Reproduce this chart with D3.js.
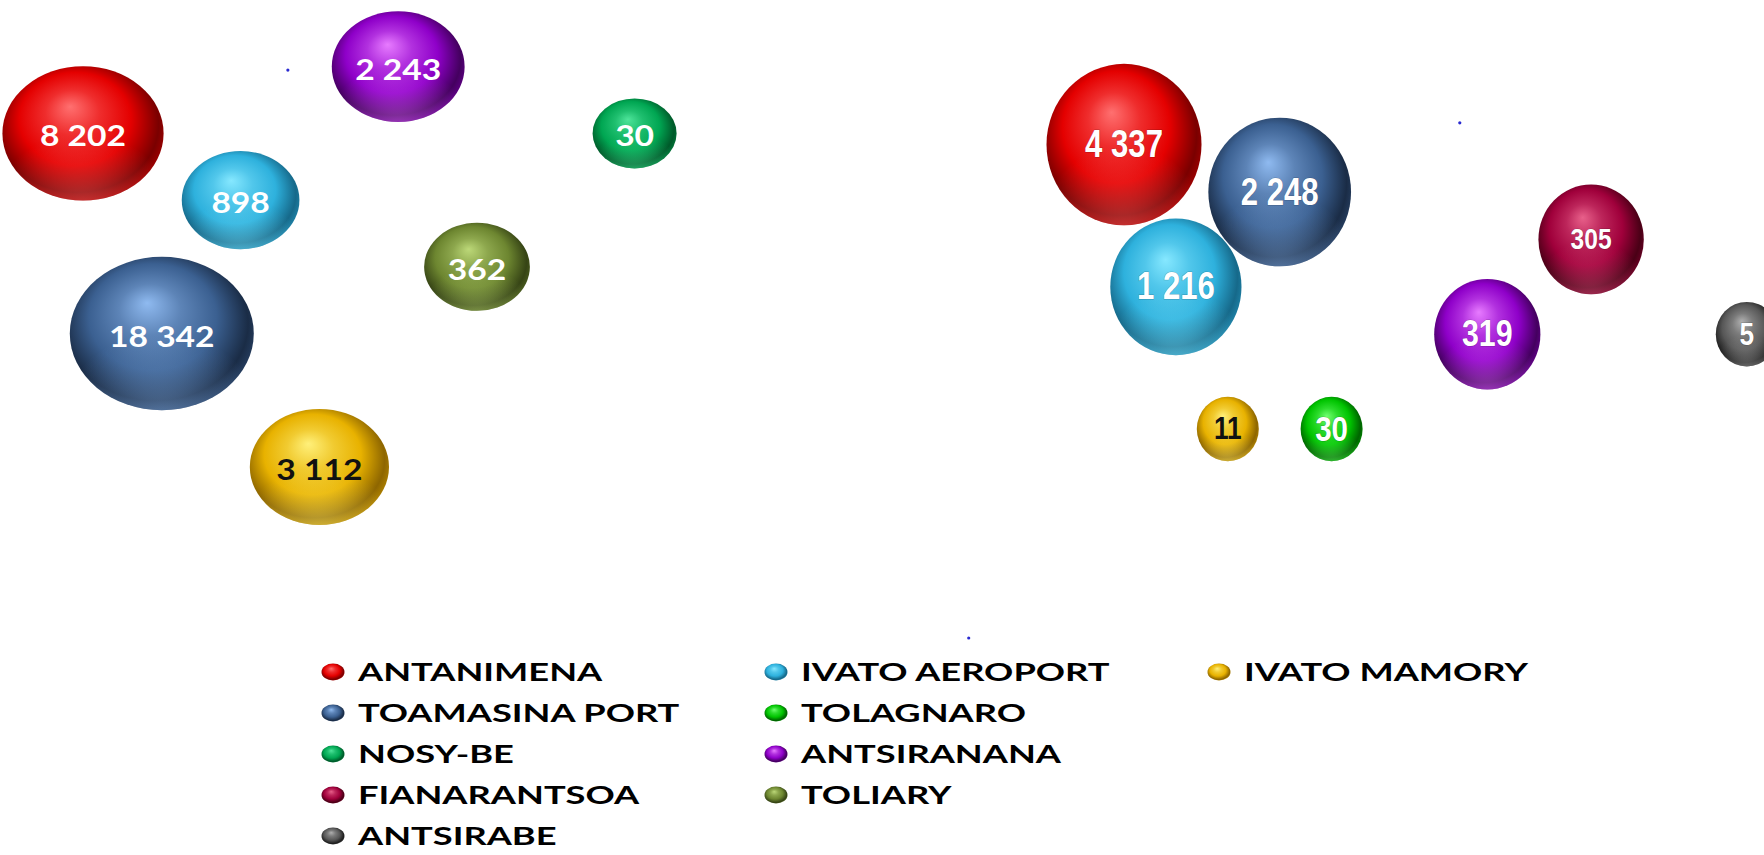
<!DOCTYPE html>
<html>
<head>
<meta charset="utf-8">
<script src="https://cdn.jsdelivr.net/npm/d3@7"></script>
<style>
  html, body { margin: 0; padding: 0; background: #fff; overflow: hidden; }
  svg { display: block; }
</style>
</head>
<body>
<svg id="chart" width="1764" height="855"></svg>
<script>
// ---------- DATA ----------
// Left panel (bubble chart 1)
const leftNames  = ["ANTANIMENA", "TOAMASINA PORT", "IVATO AEROPORT", "IVATO MAMORY", "ANTSIRANANA", "TOLIARY", "NOSY-BE"];
const leftValues = [8202, 18342, 898, 3112, 2243, 362, 30];
const leftX      = [1, 2, 3, 4, 5, 6, 8];
const leftY      = [6, 3, 5, 1, 7, 4, 6];

// Right panel (bubble chart 2)
const rightNames  = ["ANTANIMENA", "TOAMASINA PORT", "IVATO AEROPORT", "IVATO MAMORY", "TOLAGNARO", "ANTSIRANANA", "FIANARANTSOA", "ANTSIRABE"];
const rightValues = [4337, 2248, 1216, 11, 30, 319, 305, 5];
const rightX      = [1, 4, 2, 3, 5, 8, 10, 13];
const rightY      = [7, 6, 4, 1, 1, 3, 5, 3];

// Tiny stray points (zero-size bubbles) in each panel
const leftDotX = [3.6, 12.24];
const leftDotY = [6.95, -1.565];
const rightDotX = [7.47];
const rightDotY = [7.46];

// Legend (column layout)
const legendColumns = [
  ["ANTANIMENA", "TOAMASINA PORT", "NOSY-BE", "FIANARANTSOA", "ANTSIRABE"],
  ["IVATO AEROPORT", "TOLAGNARO", "ANTSIRANANA", "TOLIARY"],
  ["IVATO MAMORY"]
];

// ---------- STYLES ----------
const palette = {
  "ANTANIMENA":     { base: "#e40000", light: "#ff7070", dark: "#7a0000" },
  "TOAMASINA PORT": { base: "#3b6091", light: "#8fbaf0", dark: "#1a2c46" },
  "IVATO AEROPORT": { base: "#2eb1dd", light: "#86e8ff", dark: "#16698a" },
  "IVATO MAMORY":   { base: "#e8b200", light: "#fff07a", dark: "#8e6600" },
  "ANTSIRANANA":    { base: "#8f00c9", light: "#e77bff", dark: "#44005f" },
  "TOLIARY":        { base: "#6d8630", light: "#bcd878", dark: "#364415" },
  "NOSY-BE":        { base: "#00a652", light: "#4ee49a", dark: "#005a2a" },
  "TOLAGNARO":      { base: "#00c400", light: "#70ff70", dark: "#006400" },
  "FIANARANTSOA":   { base: "#a0003b", light: "#e8608a", dark: "#4a0016" },
  "ANTSIRABE":      { base: "#575757", light: "#b0b0b0", dark: "#1e1e1e" }
};
const darkLabel = { "IVATO MAMORY": true };
const rightFont = {
  "ANTANIMENA": 38, "TOAMASINA PORT": 38, "IVATO AEROPORT": 38, "IVATO MAMORY": 32,
  "TOLAGNARO": 36, "ANTSIRANANA": 37, "FIANARANTSOA": 30, "ANTSIRABE": 32
};

const fmt = d3.formatLocale({ decimal: ",", thousands: " ", grouping: [3], currency: ["", ""] }).format(",d");

const svg = d3.select("#chart");
const defs = svg.append("defs");

// gradients
Object.keys(palette).forEach((name, i) => {
  const c = palette[name];
  const id = "grad" + i;
  c.id = id;
  const g = defs.append("radialGradient").attr("id", id)
    .attr("cx", "0.47").attr("cy", "0.45").attr("r", "0.56")
    .attr("fx", "0.42").attr("fy", "0.3");
  g.append("stop").attr("offset", "0%").attr("stop-color", c.light);
  g.append("stop").attr("offset", "30%").attr("stop-color", d3.interpolateRgb(c.light, c.base)(0.6));
  g.append("stop").attr("offset", "62%").attr("stop-color", c.base);
  g.append("stop").attr("offset", "90%").attr("stop-color", c.dark);
  g.append("stop").attr("offset", "100%").attr("stop-color", d3.interpolateRgb(c.dark, c.base)(0.35));
  // bottom reflection
  const r = defs.append("radialGradient").attr("id", id + "r")
    .attr("cx", "0.5").attr("cy", "1.05").attr("r", "0.55");
  r.append("stop").attr("offset", "0%").attr("stop-color", c.light).attr("stop-opacity", 0.45);
  r.append("stop").attr("offset", "100%").attr("stop-color", c.light).attr("stop-opacity", 0);
});

// ---------- SCALES ----------
const xL = d3.scaleLinear().domain([0, 9]).range([4.2, 713.4]);
const yL = d3.scaleLinear().domain([0, 8]).range([533.6, 0]);
const sL = d3.scalePow().exponent(0.25).domain([30, 18342]).range([84, 184]);
const aspectL = 1.2;   // width / height

const xR = d3.scaleLinear().domain([0, 14]).range([1072.1, 1798.7]);
const yR = d3.scaleLinear().domain([0, 8]).range([476.4, 97.2]);
const sR = d3.scaleLog().domain([30, 4337]).range([62, 155]).clamp(true);
const aspectR = 0.96;

const leftData = leftNames.map((n, i) => ({ name: n, value: leftValues[i], x: leftX[i], y: leftY[i] }));
const rightData = rightNames.map((n, i) => ({ name: n, value: rightValues[i], x: rightX[i], y: rightY[i] }));

function drawBubbles(g, data, xs, ys, ss, aspect) {
  const b = g.selectAll("g.bubble").data(data).join("g").attr("class", "bubble")
    .attr("transform", d => `translate(${xs(d.x)},${ys(d.y)})`);
  b.append("ellipse")
    .attr("rx", d => ss(d.value) / 2)
    .attr("ry", d => ss(d.value) / 2 / aspect)
    .attr("fill", d => `url(#${palette[d.name].id})`);
  b.append("ellipse")
    .attr("rx", d => ss(d.value) / 2)
    .attr("ry", d => ss(d.value) / 2 / aspect)
    .attr("fill", d => `url(#${palette[d.name].id}r)`);
  return b;
}

// ---------- LEFT PANEL ----------
const gL = svg.append("g");
const bL = drawBubbles(gL, leftData, xL, yL, sL, aspectL);
bL.append("text")
  .attr("text-anchor", "middle")
  .attr("transform", "translate(0,13) scale(1.2,1)")
  .style("font-family", "Lato, 'Open Sans', sans-serif")
  .style("font-weight", "700")
  .style("font-size", "28px")
  .attr("fill", d => darkLabel[d.name] ? "#111" : "#fff")
  .text(d => fmt(d.value));
gL.selectAll("circle.dot").data(leftDotX.map((x, i) => ({ x, y: leftDotY[i] }))).join("circle")
  .attr("class", "dot").attr("cx", d => xL(d.x)).attr("cy", d => yL(d.y)).attr("r", 1.6).attr("fill", "#2a2ad0");

// ---------- RIGHT PANEL ----------
const gR = svg.append("g");
const bR = drawBubbles(gR, rightData, xR, yR, sR, aspectR);
bR.append("text")
  .attr("text-anchor", "middle")
  .attr("transform", d => `translate(0,${rightFont[d.name] * 0.716 / 2 - 1}) scale(0.82,1)`)
  .style("font-family", "'Liberation Sans', Arial, sans-serif")
  .style("font-weight", "700")
  .style("font-size", d => rightFont[d.name] + "px")
  .attr("fill", d => darkLabel[d.name] ? "#111" : "#fff")
  .style("paint-order", "stroke")
  .attr("stroke", d => darkLabel[d.name] ? "none" : "rgba(0,0,0,0.25)")
  .attr("stroke-width", 1)
  .text(d => fmt(d.value));
gR.selectAll("circle.dot").data(rightDotX.map((x, i) => ({ x, y: rightDotY[i] }))).join("circle")
  .attr("class", "dot").attr("cx", d => xR(d.x)).attr("cy", d => yR(d.y)).attr("r", 1.6).attr("fill", "#2a2ad0");

// ---------- LEGEND ----------
const colX = d3.scaleLinear().domain([0, 2]).range([333, 1219]);
const rowY = d3.scaleLinear().domain([0, 4]).range([672, 836]);
const legendItems = [];
legendColumns.forEach((col, c) => col.forEach((name, r) => legendItems.push({ name, c, r })));
const gLeg = svg.append("g");
const li = gLeg.selectAll("g.item").data(legendItems).join("g").attr("class", "item")
  .attr("transform", d => `translate(${colX(d.c)},${rowY(d.r)})`);
li.append("ellipse").attr("rx", 11.5).attr("ry", 8.5).attr("fill", d => `url(#${palette[d.name].id})`);
li.append("text")
  .attr("transform", "translate(25,9) scale(1.45,1)")
  .style("font-family", "Lato, 'Open Sans', sans-serif")
  .style("font-weight", "700")
  .style("font-size", "25px")
  .attr("fill", "#000")
  .text(d => d.name);
</script>
</body>
</html>
